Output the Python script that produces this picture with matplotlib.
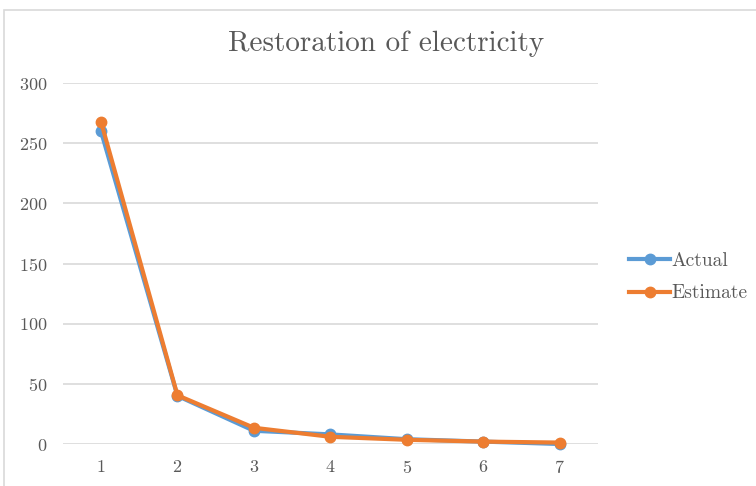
import matplotlib
matplotlib.use("Agg")
import matplotlib.pyplot as plt
from matplotlib.patches import Rectangle

# restoration progress per period
periods = [1, 2, 3, 4, 5, 6, 7]
actual = [260, 40, 11, 8, 4, 2, 0]
estimate = [268, 40.5, 13.5, 6, 3.5, 2, 1.2]

plt.rcParams['font.family'] = ['cmr10', 'DejaVu Serif']
plt.rcParams['axes.formatter.use_mathtext'] = True
txt = "#595959"

fig = plt.figure(figsize=(7.56, 4.86), dpi=100)
fig.patches.append(Rectangle((0.005, -0.1), 1.1, 1.08, transform=fig.transFigure,
                             fill=False, edgecolor="#D9D9D9", linewidth=1.2))

ax = fig.add_axes([0.083, 0.0864, 0.708, 0.7426])
ax.plot(periods, actual, color="#5B9BD5", lw=3, marker="o", ms=7.5,
        label="Actual", clip_on=False, zorder=3)
ax.plot(periods, estimate, color="#ED7D31", lw=3, marker="o", ms=7.5,
        label="Estimate", clip_on=False, zorder=4)

ax.set_xlim(0.5, 7.5)
ax.set_ylim(0, 300)
ax.set_xticks(periods)
ax.set_yticks(range(0, 301, 50))
ax.grid(axis="y", color="#D9D9D9", lw=1.2)
ax.set_axisbelow(True)
for s in ax.spines.values():
    s.set_visible(False)
ax.tick_params(length=0, labelsize=13, colors=txt)
ax.tick_params(axis="x", pad=11)
ax.tick_params(axis="y", pad=11)

fig.text(0.511, 0.909, "Restoration of electricity", fontsize=21,
         color=txt, ha="center", va="center")
ax.legend(loc="center left", bbox_to_anchor=(1.026, 0.462), frameon=False,
          fontsize=14, labelcolor=txt, handlelength=2.1, handletextpad=0.05,
          labelspacing=0.75)

fig.savefig("out.png", dpi=100)
